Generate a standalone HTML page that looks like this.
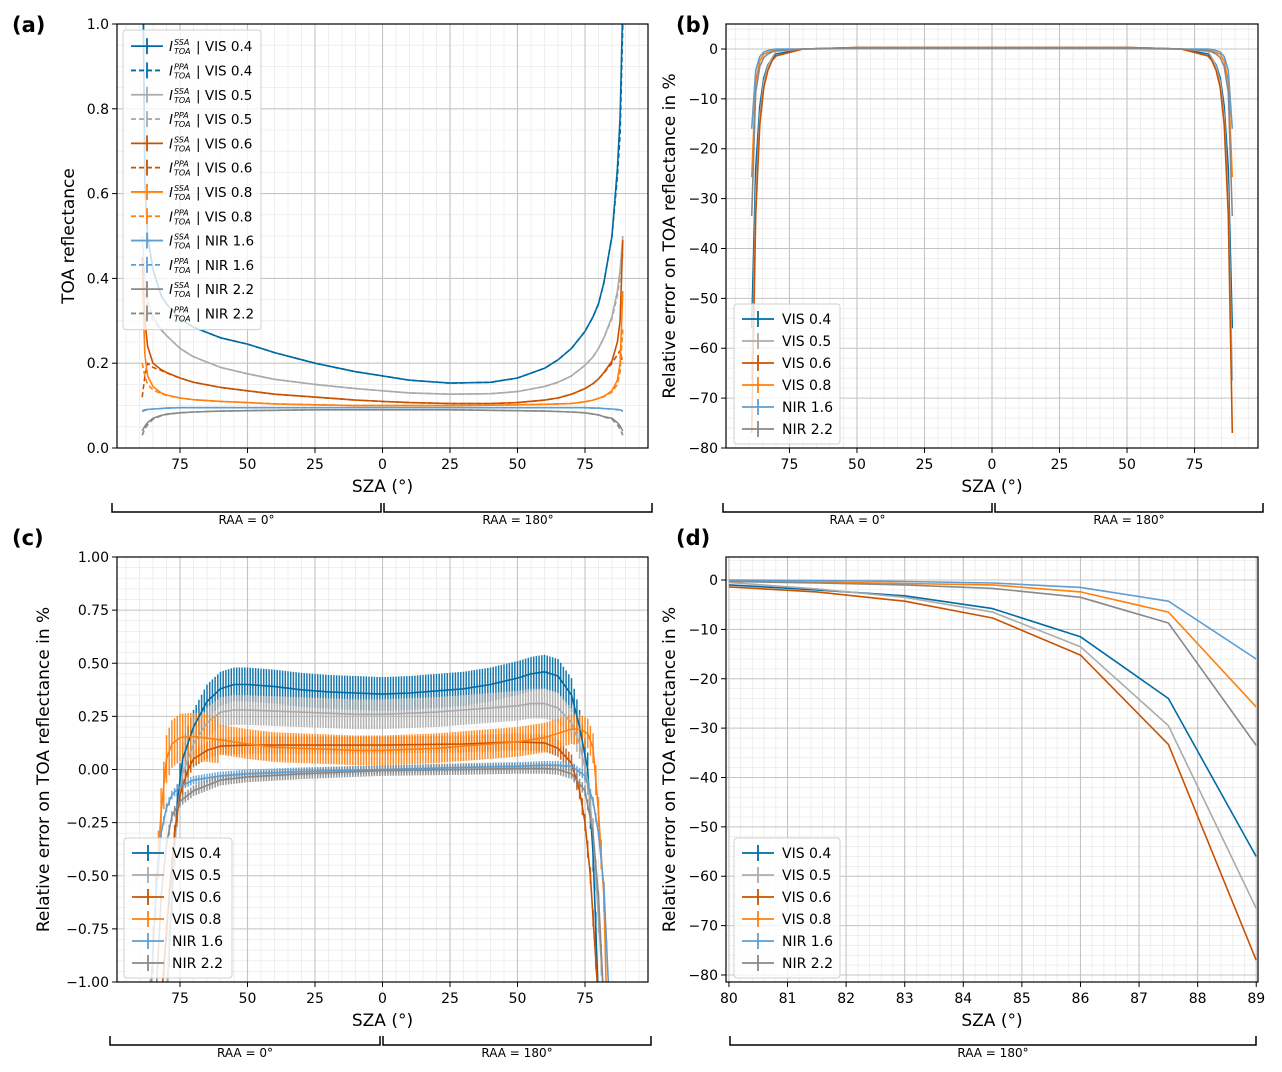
<!DOCTYPE html>
<html><head><meta charset="utf-8"><style>
html,body{margin:0;padding:0;background:#fff}
svg{display:block;font-family:"DejaVu Sans","Liberation Sans",sans-serif}
</style></head><body>
<svg id="fig" width="1282" height="1072" viewBox="0 0 1282 1072" xmlns="http://www.w3.org/2000/svg"></svg>
<script>
// ---------- colors ----------
const seriesNames = ["VIS 0.4","VIS 0.5","VIS 0.6","VIS 0.8","NIR 1.6","NIR 2.2"];
const seriesColors = ["#006BA4","#ABABAB","#C85200","#FF800E","#5F9ED1","#898989"];

// ---------- panel (a) data: TOA reflectance ----------
const aSZA = [-89,-88,-87,-85,-82,-80,-75,-70,-60,-50,-40,-25,-10,0,10,25,40,50,60,65,70,75,78,80,82,85,87,88,89];
const aSSA_vis04 = [1.3,0.62,0.5,0.42,0.36,0.34,0.305,0.285,0.26,0.245,0.225,0.2,0.18,0.17,0.16,0.153,0.155,0.165,0.188,0.208,0.235,0.275,0.31,0.34,0.39,0.5,0.66,0.78,1.05];
const aSSA_vis05 = [0.5,0.4,0.35,0.31,0.28,0.265,0.235,0.215,0.19,0.175,0.162,0.15,0.14,0.135,0.13,0.127,0.128,0.133,0.145,0.155,0.17,0.195,0.215,0.235,0.26,0.31,0.37,0.42,0.5];
const aSSA_vis06 = [0.45,0.3,0.24,0.2,0.185,0.178,0.165,0.155,0.143,0.135,0.127,0.12,0.113,0.11,0.107,0.105,0.105,0.107,0.113,0.118,0.127,0.14,0.152,0.163,0.178,0.205,0.25,0.3,0.49];
const aSSA_vis08 = [0.4,0.22,0.17,0.145,0.13,0.125,0.118,0.114,0.11,0.107,0.104,0.102,0.1,0.1,0.1,0.1,0.101,0.102,0.103,0.104,0.105,0.109,0.113,0.117,0.122,0.135,0.16,0.2,0.37];
const aSSA_nir16 = [0.088,0.09,0.091,0.092,0.093,0.094,0.095,0.095,0.095,0.095,0.095,0.095,0.095,0.095,0.095,0.095,0.095,0.095,0.095,0.095,0.095,0.095,0.094,0.094,0.093,0.092,0.091,0.09,0.088];
const aSSA_nir22 = [0.04,0.052,0.06,0.07,0.077,0.08,0.083,0.085,0.087,0.088,0.089,0.09,0.09,0.09,0.09,0.09,0.089,0.088,0.087,0.086,0.085,0.083,0.08,0.078,0.074,0.07,0.06,0.052,0.04];
const aPPA_vis04 = [1.3,0.62,0.5,0.42,0.36,0.34,0.305,0.285,0.26,0.245,0.225,0.2,0.18,0.17,0.16,0.153,0.155,0.165,0.188,0.208,0.235,0.275,0.31,0.34,0.39,0.5,0.64,0.74,1.0];
const aPPA_vis05 = [0.42,0.37,0.33,0.3,0.278,0.265,0.235,0.215,0.19,0.175,0.162,0.15,0.14,0.135,0.13,0.127,0.128,0.133,0.145,0.155,0.17,0.195,0.215,0.235,0.26,0.305,0.36,0.4,0.46];
const aPPA_vis06 = [0.12,0.17,0.2,0.19,0.183,0.177,0.165,0.155,0.143,0.135,0.127,0.12,0.113,0.11,0.107,0.105,0.105,0.107,0.113,0.118,0.127,0.14,0.152,0.163,0.177,0.2,0.22,0.23,0.2];
const aPPA_vis08 = [0.2,0.17,0.15,0.137,0.128,0.124,0.118,0.114,0.11,0.107,0.104,0.102,0.1,0.1,0.1,0.1,0.101,0.102,0.103,0.104,0.105,0.109,0.113,0.117,0.121,0.132,0.15,0.18,0.28];
const aPPA_nir16 = [0.086,0.089,0.09,0.092,0.093,0.094,0.095,0.095,0.095,0.095,0.095,0.095,0.095,0.095,0.095,0.095,0.095,0.095,0.095,0.095,0.095,0.095,0.094,0.094,0.093,0.092,0.09,0.089,0.086];
const aPPA_nir22 = [0.03,0.045,0.055,0.068,0.076,0.079,0.083,0.085,0.087,0.088,0.089,0.09,0.09,0.09,0.09,0.09,0.089,0.088,0.087,0.086,0.085,0.083,0.08,0.078,0.073,0.068,0.055,0.045,0.03];

// ---------- panel (b)/(d) data: relative error % ----------
const bSZA = [-89,-87.5,-86,-84.5,-83,-81.5,-80,-70,-50,0,50,70,80,81.5,83,84.5,86,87.5,89];
const b_vis04 = [-56,-24,-11.5,-5.8,-3.2,-2,-1,0,0.3,0.3,0.3,0,-1,-2,-3.2,-5.8,-11.5,-24,-56];
const b_vis05 = [-66.5,-29.5,-13.5,-6.5,-3.5,-1.8,-0.5,0,0.3,0.3,0.3,0,-0.5,-1.8,-3.5,-6.5,-13.5,-29.5,-66.5];
const b_vis06 = [-77,-33.3,-15.2,-7.7,-4.3,-2.4,-1.4,0,0.3,0.3,0.3,0,-1.4,-2.4,-4.3,-7.7,-15.2,-33.3,-77];
const b_vis08 = [-25.7,-6.5,-2.4,-1,-0.7,-0.4,-0.2,0,0.2,0.2,0.2,0,-0.2,-0.4,-0.7,-1,-2.4,-6.5,-25.7];
const b_nir16 = [-16,-4.3,-1.5,-0.6,-0.3,-0.1,0,0,0.1,0.1,0.1,0,0,-0.1,-0.3,-0.6,-1.5,-4.3,-16];
const b_nir22 = [-33.5,-8.7,-3.5,-1.7,-1,-0.6,-0.3,0,0.1,0.1,0.1,0,-0.3,-0.6,-1,-1.7,-3.5,-8.7,-33.5];

// ---------- panel (c) data: relative error zoomed ----------
const c_vis04_sza = [-80,-78,-76,-74,-70,-65,-60,-55,-50,-40,-30,-20,-10,0,10,20,30,40,50,55,60,65,70,73,76,78,80];
const c_vis04_val = [-1.1,-0.6,-0.15,0.05,0.2,0.32,0.38,0.4,0.4,0.39,0.375,0.365,0.36,0.355,0.36,0.37,0.38,0.4,0.43,0.45,0.46,0.44,0.35,0.2,0,-0.4,-1.1];
const c_vis05_sza = [-80,-78,-76,-74,-70,-65,-60,-55,-50,-40,-30,-20,-10,0,10,20,30,40,50,55,60,65,70,73,76,78,80,82];
const c_vis05_val = [-1.1,-0.55,-0.2,-0.02,0.12,0.22,0.27,0.28,0.28,0.275,0.27,0.265,0.26,0.26,0.265,0.27,0.28,0.29,0.3,0.31,0.31,0.29,0.22,0.12,-0.05,-0.3,-0.7,-1.1];
const c_vis06_sza = [-82,-79,-77,-75,-72,-70,-65,-60,-50,-30,0,30,50,60,65,70,73,75,77,79,80];
const c_vis06_val = [-1.1,-0.6,-0.3,-0.12,0,0.05,0.09,0.11,0.115,0.115,0.115,0.12,0.13,0.125,0.1,0.03,-0.1,-0.25,-0.5,-0.9,-1.1];
const c_vis08_sza = [-86,-84,-82,-80,-78,-75,-70,-60,-50,-40,-30,-20,-10,0,10,20,30,40,50,60,65,70,73,76,78,80,82,83];
const c_vis08_val = [-1.1,-0.6,-0.2,0.05,0.12,0.15,0.155,0.14,0.12,0.105,0.1,0.095,0.09,0.09,0.095,0.1,0.11,0.12,0.13,0.15,0.17,0.19,0.19,0.17,0.1,-0.2,-0.6,-1.1];
const c_nir16_sza = [-86,-84,-82,-80,-78,-75,-70,-60,-50,-30,0,30,50,60,65,70,75,78,80,82,84];
const c_nir16_val = [-1.1,-0.6,-0.3,-0.18,-0.12,-0.08,-0.05,-0.03,-0.02,-0.01,0,0.01,0.015,0.02,0.02,0.015,-0.03,-0.15,-0.3,-0.55,-1.1];
const c_nir22_sza = [-84,-82,-80,-78,-75,-70,-60,-50,-30,0,30,50,60,65,70,75,78,80,82];
const c_nir22_val = [-1.1,-0.6,-0.35,-0.22,-0.15,-0.1,-0.05,-0.035,-0.02,-0.005,0,0.005,0.005,0,-0.02,-0.1,-0.3,-0.6,-1.1];
const c_err = [0.08,0.07,0.04,0.07,0.02,0.025];

// ---------- panel (d) data ----------
const dSZA = [80,81.5,83,84.5,86,87.5,89];
const d_vis04 = [-1,-2,-3.2,-5.8,-11.5,-24,-56];
const d_vis05 = [-0.5,-1.8,-3.5,-6.5,-13.5,-29.5,-66.5];
const d_vis06 = [-1.4,-2.4,-4.3,-7.7,-15.2,-33.3,-77];
const d_vis08 = [-0.2,-0.4,-0.7,-1,-2.4,-6.5,-25.7];
const d_nir16 = [0,-0.1,-0.3,-0.6,-1.5,-4.3,-16];
const d_nir22 = [-0.3,-0.6,-1,-1.7,-3.5,-8.7,-33.5];

// ---------- tick labels ----------
const szaTicks = [-75,-50,-25,0,25,50,75];
const aYTicks = [0,0.2,0.4,0.6,0.8,1.0];
const bYTicks = [0,-10,-20,-30,-40,-50,-60,-70,-80];
const cYTicks = [-1,-0.75,-0.5,-0.25,0,0.25,0.5,0.75,1];
const dXTicks = [80,81,82,83,84,85,86,87,88,89];

const NS = "http://www.w3.org/2000/svg";
const svg = document.getElementById("fig");
function mk(tag, attrs, parent){
  const e = document.createElementNS(NS, tag);
  for (const k in attrs) e.setAttribute(k, attrs[k]);
  (parent||svg).appendChild(e);
  return e;
}
let clipId = 0;
function makePanel(p){
  const g = mk("g", {});
  
  
  const sx = v => p.px0 + (v - p.xmin) / (p.xmax - p.xmin) * (p.px1 - p.px0);
  const sy = v => p.py1 - (v - p.ymin) / (p.ymax - p.ymin) * (p.py1 - p.py0);
  const gm = mk("g", {stroke:"#ebebeb","stroke-width":0.8}, g);
  for (let v = Math.ceil(p.xmin/p.xMinor)*p.xMinor; v <= p.xmax; v += p.xMinor){
    const x = sx(v); mk("line",{x1:x,x2:x,y1:p.py0,y2:p.py1},gm);
  }
  for (let v = Math.ceil(p.ymin/p.yMinor)*p.yMinor; v <= p.ymax+1e-9; v += p.yMinor){
    const y = sy(v); mk("line",{x1:p.px0,x2:p.px1,y1:y,y2:y},gm);
  }
  const gM = mk("g", {stroke:"#c4c4c4","stroke-width":1.1}, g);
  p.xTicks.forEach(v => { const x = sx(v); mk("line",{x1:x,x2:x,y1:p.py0,y2:p.py1},gM); });
  p.yTicks.forEach(v => { const y = sy(v); mk("line",{x1:p.px0,x2:p.px1,y1:y,y2:y},gM); });
  p.xTicks.forEach(v => {
    const x = sx(v);
    mk("line",{x1:x,x2:x,y1:p.py1,y2:p.py1+5,stroke:"#000","stroke-width":1},g);
    const t = mk("text",{x:x,y:p.py1+21,"font-size":14,"text-anchor":"middle",fill:"#000"},g);
    t.textContent = p.xFmt(v);
    
    
  });
  p.yTicks.forEach(v => {
    const y = sy(v);
    mk("line",{x1:p.px0-5,x2:p.px0,y1:y,y2:y,stroke:"#000","stroke-width":1},g);
    const t = mk("text",{x:p.px0-8,y:y+5,"font-size":14,"text-anchor":"end",fill:"#000"},g);
    t.textContent = p.yFmt(v);
    
    
  });
  const cid = "clip" + (clipId++);
  const cp = mk("clipPath",{id:cid},g);
  mk("rect",{x:p.px0,y:p.py0,width:p.px1-p.px0,height:p.py1-p.py0},cp);
  const plot = mk("g",{"clip-path":"url(#"+cid+")"},g);
  mk("rect",{x:p.px0,y:p.py0,width:p.px1-p.px0,height:p.py1-p.py0,fill:"none",stroke:"#000","stroke-width":1.2},g);
  const xl = mk("text",{x:(p.px0+p.px1)/2,y:p.py1+44,"font-size":17,"text-anchor":"middle"},g);
  xl.textContent = "SZA (°)";
  
  
  const ycx = p.ylabX, ycy = (p.py0+p.py1)/2;
  const yl = mk("text",{x:ycx,y:ycy,"font-size":17,"text-anchor":"middle",transform:"rotate(-90 "+ycx+" "+ycy+")"},g);
  yl.textContent = p.ylabel;
  
  
  const pl = mk("text",{x:p.letterX,y:p.letterY,"font-size":21,"font-weight":"bold"},g);
  pl.textContent = p.letter;
  
  
  return {g, plot, sx, sy};
}
function drawLine(P, xs, ys, color, dash, name){
  let d = "";
  xs.forEach((x,i)=>{ d += (i?"L":"M") + P.sx(x).toFixed(1) + "," + P.sy(ys[i]).toFixed(1); });
  const attrs = {d:d,fill:"none",stroke:color,"stroke-width":1.6,"stroke-linejoin":"round"};
  if (dash) attrs["stroke-dasharray"] = "5,3";
  const e = mk("path", attrs, P.plot);
  
  
  return e;
}
function interp(xs, ys, x){
  for (let i=0;i<xs.length-1;i++){
    if (x>=xs[i] && x<=xs[i+1]){ const t=(x-xs[i])/(xs[i+1]-xs[i]); return ys[i]+t*(ys[i+1]-ys[i]); }
  }
  return null;
}
function legend(g, x, y, w, rowH, entries){
  const h = entries.length*rowH + 8;
  const box = mk("rect",{x:x,y:y,width:w,height:h,rx:3,fill:"#fff","fill-opacity":0.8,stroke:"#d0d0d0"},g);
  
  
  entries.forEach((en,i)=>{
    const cy = y + 4 + rowH*(i+0.5);
    const lg = mk("g",{},g);
    
    
    const la = {x1:x+8,x2:x+40,y1:cy,y2:cy,stroke:en.color,"stroke-width":1.8};
    if (en.dash) la["stroke-dasharray"]="5,3";
    mk("line",la,lg);
    mk("line",{x1:x+24,x2:x+24,y1:cy-8,y2:cy+8,stroke:en.color,"stroke-width":1.8},lg);
    if (en.sup){
      const t = mk("text",{x:x+46,y:cy+5,"font-size":13.5,"font-style":"italic"},lg); t.textContent="I";
      const s1 = mk("text",{x:x+51,y:cy-1,"font-size":8,"font-style":"italic"},lg); s1.textContent=en.sup;
      const s2 = mk("text",{x:x+51,y:cy+8,"font-size":8,"font-style":"italic"},lg); s2.textContent="TOA";
      const t2 = mk("text",{x:x+73,y:cy+5,"font-size":13.5},lg); t2.textContent="| "+en.label;
    } else {
      const t = mk("text",{x:x+48,y:cy+5,"font-size":14},lg); t.textContent=en.label;
    }
  });
}
function bracket(x0, x1, y, label){
  const g = mk("g",{});
  
  
  mk("path",{d:`M${x0},${y-9}L${x0},${y}L${x1},${y}L${x1},${y-9}`,fill:"none",stroke:"#000","stroke-width":1.5},g);
  const t = mk("text",{x:(x0+x1)/2,y:y+12,"font-size":12,"text-anchor":"middle"},g);
  t.textContent = label;
}
const absFmt = v => String(Math.abs(v));

// ---------- Panel A ----------
const PA = makePanel({name:"panel-a",px0:117,px1:648,py0:24,py1:448,xmin:-98.33,xmax:98.33,ymin:0,ymax:1,
  xTicks:szaTicks,yTicks:aYTicks,xMinor:5,yMinor:0.05,xFmt:absFmt,yFmt:v=>v.toFixed(1),
  ylabel:"TOA reflectance",ylabX:74,letter:"(a)",letterX:12,letterY:32});
const aSSA = [aSSA_vis04,aSSA_vis05,aSSA_vis06,aSSA_vis08,aSSA_nir16,aSSA_nir22];
const aPPA = [aPPA_vis04,aPPA_vis05,aPPA_vis06,aPPA_vis08,aPPA_nir16,aPPA_nir22];
aSSA.forEach((s,i)=>{ drawLine(PA,aSZA,aPPA[i],seriesColors[i],true,'ppa-line'); drawLine(PA,aSZA,s,seriesColors[i],false,'ssa-line'); });
const aEntries = [];
seriesNames.forEach((n,i)=>{ aEntries.push({label:n,color:seriesColors[i],sup:"SSA"}); aEntries.push({label:n,color:seriesColors[i],sup:"PPA",dash:true}); });
legend(PA.g,123,30,138,24.3,aEntries);

// ---------- Panel B ----------
const PB = makePanel({name:"panel-b",px0:726,px1:1258,py0:24,py1:448,xmin:-98.5,xmax:98.5,ymin:-80,ymax:5.01,
  xTicks:szaTicks,yTicks:bYTicks,xMinor:5,yMinor:2,xFmt:absFmt,yFmt:v=>v<0?"−"+Math.abs(v):String(v),
  ylabel:"Relative error on TOA reflectance in %",ylabX:675,letter:"(b)",letterX:676,letterY:32});
const bSeries = [b_vis04,b_vis05,b_vis06,b_vis08,b_nir16,b_nir22];
bSeries.forEach((s,i)=>drawLine(PB,bSZA,s,seriesColors[i],false,'error-line'));
legend(PB.g,734,304,106,22,seriesNames.map((n,i)=>({label:n,color:seriesColors[i]})));

// ---------- Panel C ----------
const PC = makePanel({name:"panel-c",px0:117,px1:648,py0:557,py1:982,xmin:-98.33,xmax:98.33,ymin:-1,ymax:1,
  xTicks:szaTicks,yTicks:cYTicks,xMinor:5,yMinor:0.05,xFmt:absFmt,yFmt:v=>(v<0?"−":"")+Math.abs(v).toFixed(2),
  ylabel:"Relative error on TOA reflectance in %",ylabX:49,letter:"(c)",letterX:12,letterY:545});
const cS = [[c_vis04_sza,c_vis04_val],[c_vis05_sza,c_vis05_val],[c_vis06_sza,c_vis06_val],[c_vis08_sza,c_vis08_val],[c_nir16_sza,c_nir16_val],[c_nir22_sza,c_nir22_val]];
cS.forEach((s,i)=>{
  const eg = mk("g",{stroke:seriesColors[i],"stroke-width":1.5,opacity:0.9},PC.plot);
  
  
  for (let x=Math.ceil(s[0][0]); x<=s[0][s[0].length-1]; x+=1){
    const y = interp(s[0],s[1],x); if (y===null) continue;
    const e = c_err[i]*(x<-60 && i===3 ? 1.6 : 1);
    mk("line",{x1:PC.sx(x),x2:PC.sx(x),y1:PC.sy(y-e),y2:PC.sy(y+e)},eg);
  }
});
cS.forEach((s,i)=>drawLine(PC,s[0],s[1],seriesColors[i],false,'error-line'));
legend(PC.g,124,838,108,22,seriesNames.map((n,i)=>({label:n,color:seriesColors[i]})));

// ---------- Panel D ----------
const PD = makePanel({name:"panel-d",px0:726,px1:1258,py0:557,py1:982,xmin:79.95,xmax:89.03,ymin:-81.42,ymax:4.66,
  xTicks:dXTicks,yTicks:bYTicks,xMinor:0.2,yMinor:2,xFmt:v=>String(v),yFmt:v=>v<0?"−"+Math.abs(v):String(v),
  ylabel:"Relative error on TOA reflectance in %",ylabX:675,letter:"(d)",letterX:676,letterY:545});
const dSeries = [d_vis04,d_vis05,d_vis06,d_vis08,d_nir16,d_nir22];
dSeries.forEach((s,i)=>drawLine(PD,dSZA,s,seriesColors[i],false,'error-line'));
legend(PD.g,734,838,106,22,seriesNames.map((n,i)=>({label:n,color:seriesColors[i]})));

// ---------- brackets ----------
bracket(112,381,512,"RAA = 0°"); bracket(384,652,512,"RAA = 180°");
bracket(723,992,512,"RAA = 0°"); bracket(995,1263,512,"RAA = 180°");
bracket(110,380,1045,"RAA = 0°"); bracket(383,651,1045,"RAA = 180°");
bracket(730,1256,1045,"RAA = 180°");
</script>
</body></html>
